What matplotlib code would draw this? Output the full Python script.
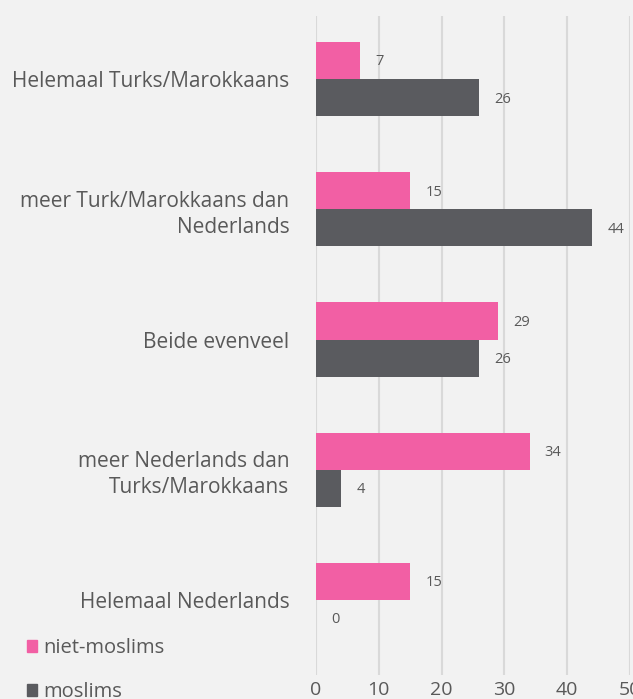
import matplotlib.pyplot as plt
import numpy as np
from matplotlib.patches import Patch

categories = ['Helemaal Turks/Marokkaans',
              'meer Turk/Marokkaans dan\nNederlands',
              'Beide evenveel',
              'meer Nederlands dan\nTurks/Marokkaans',
              'Helemaal Nederlands']
niet_moslims = [7, 15, 29, 34, 15]
moslims = [26, 44, 26, 4, 0]
series_names = ['niet-moslims', 'moslims']
xticks = [0, 10, 20, 30, 40, 50]

pink = '#f25fa4'
dark = '#5a5b5f'
bg = '#f2f2f2'
txt = '#595959'

plt.rcParams['font.family'] = ['Open Sans', 'DejaVu Sans']

fig = plt.figure(figsize=(6.33, 6.99), dpi=100, facecolor=bg)
W, H = 633, 699
ax = fig.add_axes([316 / W, 1 - 675 / H, (630 - 316) / W, (675 - 16) / H])
ax.set_facecolor(bg)

y = np.arange(len(categories))
h = 0.285
ax.barh(y - h / 2, niet_moslims, height=h, color=pink, zorder=3)
ax.barh(y + h / 2, moslims, height=h, color=dark, zorder=3)

# waarde-labels naast de balken
for yi, v in zip(y, niet_moslims):
    ax.annotate(str(v), (v, yi - h / 2), xytext=(11, -1), textcoords='offset points',
                va='center', ha='left', fontsize=10.5, color=txt)
for yi, v in zip(y, moslims):
    ax.annotate(str(v), (v, yi + h / 2), xytext=(11, -1), textcoords='offset points',
                va='center', ha='left', fontsize=10.5, color=txt)

ax.set_xlim(0, 50)
ax.set_ylim(len(categories) - 1 + 0.577, -0.485)
ax.set_xticks(xticks)
ax.set_xticklabels([str(t) for t in xticks], fontsize=14, color=txt)
ax.set_yticks(y)
ax.set_yticklabels(categories, fontsize=15, color=txt, ha='right',
                   multialignment='right', linespacing=1.3)
ax.tick_params(axis='both', length=0)
ax.tick_params(axis='y', pad=19)
ax.tick_params(axis='x', pad=4)
ax.grid(axis='x', color='#d9d9d9', linewidth=1.5, zorder=0)
for s in ax.spines.values():
    s.set_visible(False)

handles = [Patch(color=pink), Patch(color=dark)]
fig.legend(handles, series_names, loc='upper left', bbox_to_anchor=(9 / W, 1 - 620 / H),
           frameon=False, fontsize=14.5, handlelength=0.5, handleheight=0.5,
           handletextpad=0.3, labelspacing=1.2, labelcolor=txt)

fig.savefig('out.png', dpi=100, facecolor=bg)
